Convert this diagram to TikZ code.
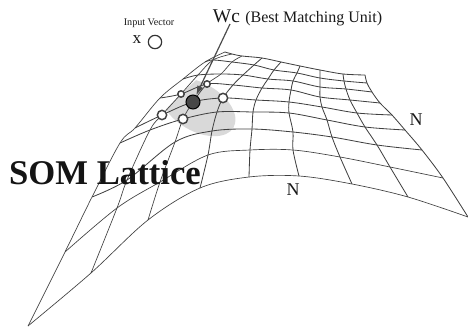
\documentclass[tikz,border=0pt]{standalone}
\usepackage{fontspec}
\setmainfont{Liberation Serif}
\usetikzlibrary{arrows.meta}
\tikzset{
 grid/.style={draw=black!75,line width=0.62pt,smooth,tension=0.55},
 gridthin/.style={grid,line width=0.5pt},
 unit/.style={circle,draw=black!75,fill=white,line width=1.1pt,inner sep=0pt},
 lbl/.style={inner sep=0pt,text=black!90}
}
\newcommand{\gridline}[1]{\draw[grid] plot coordinates {#1};}
\newcommand{\gridthinline}[1]{\draw[gridthin] plot coordinates {#1};}
\begin{document}
\begin{tikzpicture}[x=0.75pt,y=-0.75pt]
\useasboundingbox (0,0) rectangle (468,332);
\begin{scope}
\clip (150,125) -- (181,94) -- (205,72) -- (260,60) -- (260,150) -- (150,150) -- cycle;
\fill[black!15,rotate around={-30:(198,107)}] (198,107) ellipse (41 and 24);
\end{scope}
% family A
\gridline{(225,52)(232,54)(242,56)(262,58)(281,62)(300,66)(320,70)(343,74)(365,75)}
\gridline{(205,62)(213,60)(232,62)(254,65)(274,70)(297,73)(320,78)(344,81)(367,83)}
\gridline{(183,79)(198,75)(221,74)(243,75)(268,79)(293,81)(320,87)(346,89)(372,92)}
\gridline{(160,98)(181,94)(207,84)(233,85)(262,88)(291,90)(320,97)(350,100)(380,103)}
\gridline{(135,128)(162,115)(193,102)(223,98)(256,100)(289,102)(322,107)(357,113)(392,115)}
\gridline{(120,143)(150,130)(183,119)(217,112)(253,112)(289,113)(327,120)(365,127)(405,130)}
\gridline{(92,197)(127,180)(175,142)(212,131)(252,129)(293,132)(332,137)(377,145)(422,150)}
\gridthinline{(65,252)(117,208)(160,182)(208,155)(250,150)(293,150)(340,157)(390,167)(443,178)}
\gridthinline{(28,326)(91,273)(148,220)(200,188)(249,177)(299,176)(352,184)(408,197)(468,217)}
% family B
\gridthinline{(28,326)(65,252)(92,197)(120,143)(135,128)(160,98)(183,79)(205,62)(225,52)}
\gridthinline{(91,273)(117,208)(127,180)(150,130)(162,115)(181,94)(198,75)(213,60)(232,54)}
\gridthinline{(148,220)(160,182)(175,142)(183,119)(193,102)(207,84)(221,74)(232,62)(242,56)}
\gridline{(200,188)(208,155)(212,131)(217,112)(223,98)(233,85)(243,75)(254,65)(262,58)}
\gridline{(249,177)(250,150)(252,129)(253,112)(256,100)(262,88)(268,79)(274,70)(281,62)}
\gridline{(299,176)(293,150)(293,132)(289,113)(289,102)(291,90)(293,81)(297,73)(300,66)}
\gridline{(352,184)(340,157)(332,137)(327,120)(322,107)(320,97)(320,87)(320,78)(320,70)}
\gridline{(408,197)(390,167)(377,145)(365,127)(357,113)(350,100)(346,89)(344,81)(343,74)}
\gridline{(468,217)(443,178)(422,150)(405,130)(392,115)(380,103)(372,92)(367,83)(365,75)}
% units
\node[unit,minimum size=7pt] (e) at (223,98) {};
\node[unit,minimum size=7pt] (w) at (162,115) {};
\node[unit,minimum size=7pt] (s) at (183,119) {};
\node[unit,minimum size=4.8pt] (n) at (207,84) {};
\node[unit,minimum size=4.8pt] (nw) at (181,94) {};
\node[circle,draw=black,fill=black!72,line width=0.8pt,minimum size=10.5pt,inner sep=0pt] (bmu) at (193,102) {};
% labels
\node[lbl,font=\fontsize{7.6pt}{9pt}\selectfont] (iv) at (149,23) {Input Vector};
\node[lbl,font=\fontsize{13pt}{14pt}\selectfont] (xl) at (137,40) {x};
\node[circle,draw=black!80,fill=white,line width=0.9pt,minimum size=10pt,inner sep=0pt] (x) at (155,42) {};
\node[lbl,font=\fontsize{14.6pt}{16pt}\selectfont,anchor=base] (wc) at (226.5,22) {Wc};
\node[lbl,font=\fontsize{12pt}{14pt}\selectfont,anchor=base west] (bm) at (245,22) {(Best Matching Unit)};
\node[lbl,font=\fontsize{26pt}{28pt}\selectfont\bfseries,text=black!92] (som) at (105,173) {SOM Lattice};
\node[lbl,font=\fontsize{13.5pt}{15pt}\selectfont] (n1) at (416,120) {N};
\node[lbl,font=\fontsize{13.5pt}{15pt}\selectfont] (n2) at (293,190) {N};
\coordinate (wcs) at (230,24);
\draw[draw=black!70,line width=0.9pt,-{Latex[length=7pt,width=5pt]}] (wcs) -- (bmu);
\end{tikzpicture}
\end{document}
